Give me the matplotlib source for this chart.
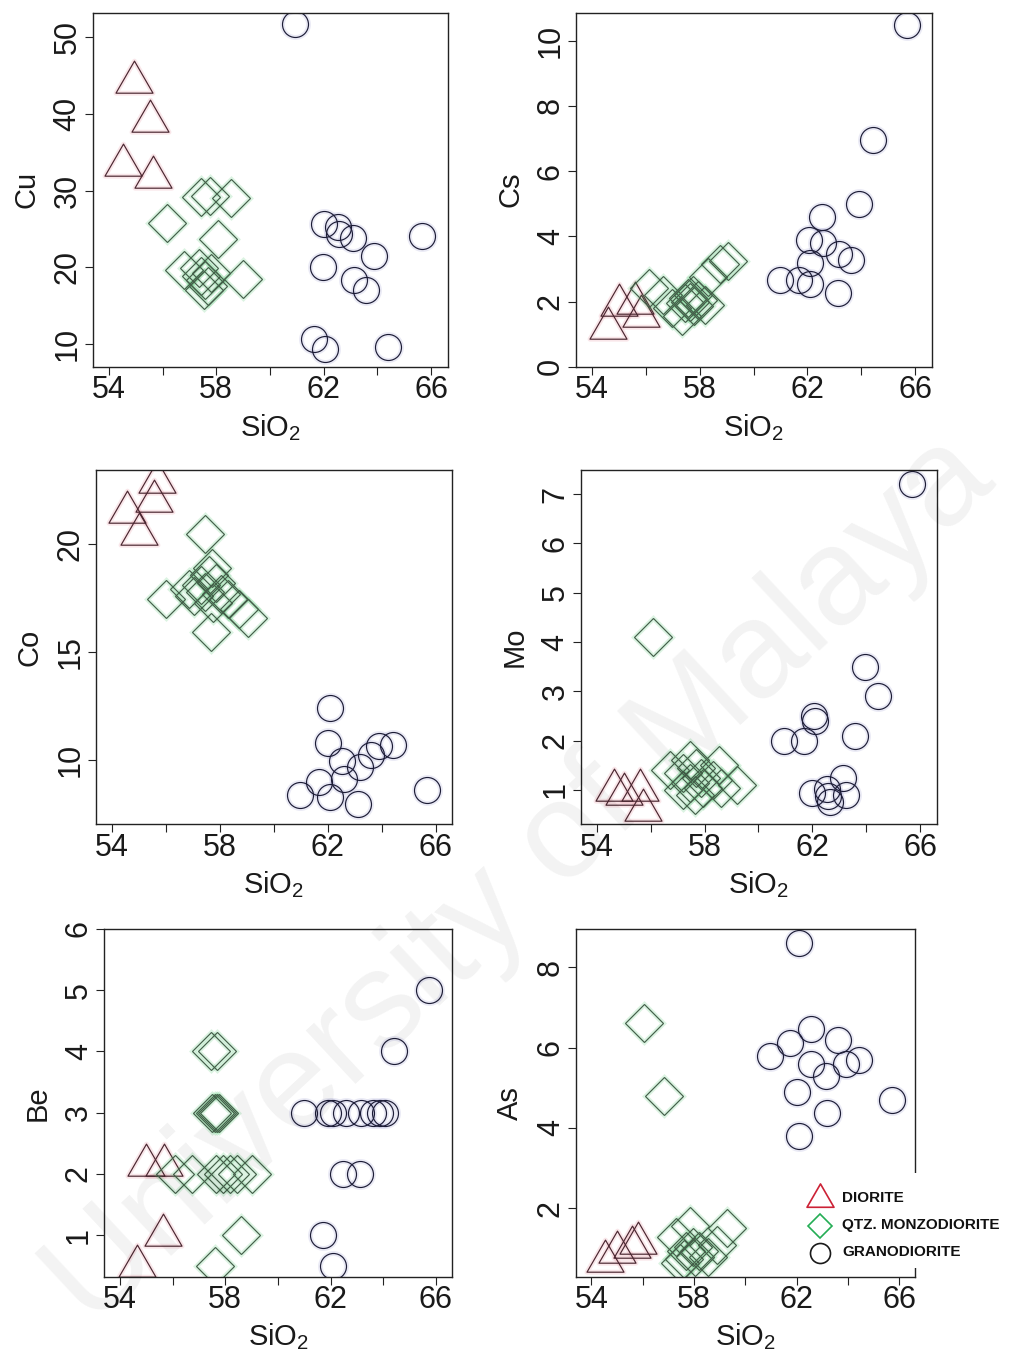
import matplotlib
matplotlib.use('Agg')
import matplotlib.pyplot as plt
from matplotlib.path import Path
from matplotlib.lines import Line2D
from matplotlib.patches import Rectangle

plt.rcParams['font.family'] = ['Liberation Sans', 'DejaVu Sans']
plt.rcParams['mathtext.fontset'] = 'custom'
plt.rcParams['mathtext.rm'] = 'Liberation Sans'
plt.rcParams['mathtext.it'] = 'Liberation Sans:italic'
plt.rcParams['mathtext.bf'] = 'Liberation Sans:bold'

# ---------------- data ----------------
groups = ['DIORITE', 'QTZ. MONZODIORITE', 'GRANODIORITE']
x_ticks = [54, 56, 58, 60, 62, 64, 66]
x_tick_labels = ['54', '', '58', '', '62', '', '66']

# Cu
cu_dio_sio2 = [54.93, 55.55, 54.53, 55.64]
cu_dio = [44.1, 39.1, 33.4, 31.8]
cu_qmd_sio2 = [57.45, 57.75, 58.55, 56.15, 58.08, 56.8, 57.35, 57.45, 57.6, 57.7, 57.8, 57.55, 59.0]
cu_qmd = [29.2, 29.3, 29.0, 25.8, 23.7, 19.7, 19.9, 18.9, 18.3, 17.6, 19.2, 17.1, 18.5]
cu_gd_sio2 = [60.94, 62.02, 62.52, 62.58, 63.08, 65.67, 63.89, 61.99, 63.14, 63.58, 61.65, 62.06, 64.39]
cu_gd = [51.7, 25.7, 25.3, 24.4, 23.8, 24.1, 21.5, 20.0, 18.3, 17.1, 10.7, 9.4, 9.65]

# Cs
cs_dio_sio2 = [54.6, 55.0, 55.6, 55.8]
cs_dio = [1.2, 1.9, 1.95, 1.55]
cs_qmd_sio2 = [56.1, 56.65, 56.95, 57.35, 57.45, 57.55, 57.65, 57.75, 57.8, 57.95, 58.2, 58.3, 58.75, 59.05]
cs_qmd = [2.4, 2.2, 1.8, 1.55, 1.95, 2.1, 2.0, 2.2, 1.85, 2.05, 1.9, 2.75, 3.15, 3.25]
cs_gd_sio2 = [65.71, 64.45, 63.91, 62.55, 62.05, 62.59, 63.17, 63.63, 62.09, 61.0, 61.68, 62.09, 63.13]
cs_gd = [10.48, 6.95, 5.0, 4.59, 3.89, 3.79, 3.47, 3.28, 3.18, 2.67, 2.67, 2.55, 2.26]

# Co
co_dio_sio2 = [55.67, 55.57, 54.56, 54.99]
co_dio = [22.9, 22.0, 21.5, 20.5]
co_qmd_sio2 = [57.47, 56.0, 56.85, 57.05, 57.3, 57.45, 57.6, 57.7, 57.75, 57.85, 58.05, 58.3, 58.7, 59.05, 57.68]
co_qmd = [20.5, 17.45, 17.95, 17.6, 18.1, 17.8, 18.6, 18.9, 17.3, 18.2, 17.7, 17.45, 17.0, 16.6, 15.95]
co_gd_sio2 = [62.07, 62.01, 63.9, 64.43, 63.59, 62.54, 63.2, 62.6, 61.67, 60.97, 62.08, 63.12, 65.7]
co_gd = [12.4, 10.77, 10.66, 10.7, 10.23, 9.95, 9.69, 9.1, 9.0, 8.38, 8.3, 7.96, 8.61]

# Mo
mo_dio_sio2 = [54.62, 54.99, 55.61, 55.73]
mo_dio = [0.99, 0.91, 1.0, 0.59]
mo_qmd_sio2 = [56.1, 56.7, 57.2, 57.2, 57.45, 57.45, 57.65, 57.7, 57.85, 57.95, 58.3, 58.55, 58.6, 59.2]
mo_qmd = [4.1, 1.4, 1.35, 1.0, 1.6, 1.15, 0.9, 1.45, 1.25, 1.05, 1.2, 1.5, 1.05, 1.1]
mo_gd_sio2 = [65.7, 63.95, 64.45, 62.05, 62.1, 60.95, 61.7, 63.6, 63.15, 61.98, 62.54, 62.6, 62.66, 63.25]
mo_gd = [7.2, 3.5, 2.9, 2.5, 2.4, 2.0, 2.0, 2.1, 1.25, 0.93, 1.03, 0.88, 0.75, 0.9]

# Be
be_dio_sio2 = [54.98, 55.68, 55.64, 54.64]
be_dio = [2.15, 2.15, 1.0, 0.5]
be_qmd_sio2 = [57.45, 57.7, 57.5, 57.6, 57.7, 57.75, 56.1, 56.75, 57.65, 57.9, 58.2, 58.45, 59.0, 58.6, 57.6]
be_qmd = [4, 4, 3, 3, 3, 3, 2, 2, 2, 2, 2, 2, 2, 1, 0.5]
be_gd_sio2 = [65.73, 64.4, 60.99, 61.91, 62.1, 62.6, 63.17, 63.61, 63.86, 64.05, 62.48, 63.11, 61.7, 62.1]
be_gd = [5, 4, 3, 3, 3, 3, 3, 3, 3, 3, 2, 2, 1, 0.5]

# As
as_dio_sio2 = [54.55, 55.0, 55.6, 55.8]
as_dio = [0.7, 0.92, 1.05, 1.15]
as_qmd_sio2 = [56.05, 56.85, 57.3, 57.45, 57.6, 57.7, 57.85, 57.95, 58.05, 58.2, 58.55, 58.9, 59.3]
as_qmd = [6.6, 4.8, 1.3, 0.65, 0.75, 0.95, 1.55, 1.05, 0.8, 0.95, 0.8, 1.1, 1.5]
as_gd_sio2 = [62.11, 62.57, 61.73, 63.63, 60.98, 62.57, 64.43, 63.91, 63.13, 62.02, 65.71, 63.19, 62.11]
as_gd = [8.6, 6.46, 6.12, 6.19, 5.78, 5.59, 5.69, 5.59, 5.29, 4.9, 4.7, 4.38, 3.8]

elements = ['Cu', 'Cs', 'Co', 'Mo', 'Be', 'As']
y_ticks = [[10, 20, 30, 40, 50], [0, 2, 4, 6, 8, 10], [10, 15, 20],
           [1, 2, 3, 4, 5, 6, 7], [1, 2, 3, 4, 5, 6], [2, 4, 6, 8]]
y_limits = [(7.04, 53.2), (0.0, 10.86), (7.03, 23.45), (0.31, 7.49), (0.32, 6.0), (0.30, 8.95)]
x_limits = (53.4, 66.62)

panel_data = [
    [(cu_dio_sio2, cu_dio), (cu_qmd_sio2, cu_qmd), (cu_gd_sio2, cu_gd)],
    [(cs_dio_sio2, cs_dio), (cs_qmd_sio2, cs_qmd), (cs_gd_sio2, cs_gd)],
    [(co_dio_sio2, co_dio), (co_qmd_sio2, co_qmd), (co_gd_sio2, co_gd)],
    [(mo_dio_sio2, mo_dio), (mo_qmd_sio2, mo_qmd), (mo_gd_sio2, mo_gd)],
    [(be_dio_sio2, be_dio), (be_qmd_sio2, be_qmd), (be_gd_sio2, be_gd)],
    [(as_dio_sio2, as_dio), (as_qmd_sio2, as_qmd), (as_gd_sio2, as_gd)],
]

# ---------------- layout (pixel boxes: left, top, right, bottom) ----------------
W, H = 1029, 1356
boxes = [(92.7, 12.7, 447.7, 366.7), (576, 12.7, 931.7, 366.7),
         (95.7, 470, 452.3, 824), (580.7, 470, 936.7, 824),
         (104, 929, 452.3, 1276.7), (576, 929, 915, 1276.7)]

fig = plt.figure(figsize=(W / 100, H / 100), dpi=100)

TRI = Path([(0, 1), (-0.866, -0.5), (0.866, -0.5), (0, 1)],
           [Path.MOVETO, Path.LINETO, Path.LINETO, Path.CLOSEPOLY])

styles = [
    dict(marker=TRI, ms=30.8, edge='#4a2630', halo='#e07888'),
    dict(marker='D', ms=19.3, edge='#44604a', halo='#3cc060'),
    dict(marker='o', ms=18.7, edge='#1c1c36', halo='#8c8cc8'),
]
frame_col = '#222222'

for i, (l, t, r, b) in enumerate(boxes):
    wpx, hpx = r - l, b - t
    ax = fig.add_axes([l / W, 1 - b / H, wpx / W, hpx / H])
    for g, (xs, ys) in enumerate(panel_data[i]):
        st = styles[g]
        ax.plot(xs, ys, ls='none', marker=st['marker'], ms=st['ms'], mfc='none',
                mec=st['halo'], mew=3.5, alpha=0.18)
        ax.plot(xs, ys, ls='none', marker=st['marker'], ms=st['ms'], mfc='none',
                mec=st['edge'], mew=0.85, label=groups[g])
    ax.set_xlim(*x_limits)
    ax.set_ylim(*y_limits[i])
    ax.set_xticks(x_ticks)
    ax.set_xticklabels(x_tick_labels)
    ax.set_yticks(y_ticks[i])
    ax.set_yticklabels([str(v) for v in y_ticks[i]])
    ax.tick_params(axis='both', direction='out', length=5.8, width=0.8,
                   color=frame_col, labelcolor='#1a1a1a', labelsize=22)
    ax.tick_params(axis='x', pad=0.5)
    ax.tick_params(axis='y', pad=1.5, labelrotation=90)
    for lbl in ax.get_yticklabels():
        lbl.set_verticalalignment('center')
    for sp in ax.spines.values():
        sp.set_linewidth(1.0)
        sp.set_color(frame_col)
    ax.set_xlabel('SiO$_2$', fontsize=21, color='#1a1a1a')
    ax.xaxis.set_label_coords(0.5, -45 / hpx)
    ax.xaxis.label.set_verticalalignment('top')
    ax.set_ylabel(elements[i], fontsize=21, color='#1a1a1a')
    ax.yaxis.set_label_coords(-66 / wpx, 0.5)
    ax.yaxis.label.set_verticalalignment('center')

# ---------------- legend (white box over the As panel corner) ----------------
fig.add_artist(Rectangle((803 / W, 1 - 1268 / H), (W - 803) / W, 95 / H,
                         transform=fig.transFigure, facecolor='white',
                         edgecolor='none', zorder=5))
leg_styles = [
    dict(marker=TRI, ms=22.4, color='#cc2236'),
    dict(marker='D', ms=12.7, color='#24ad55'),
    dict(marker='o', ms=14.4, color='#1a1a1a'),
]
leg_rows = [1198.5, 1225.5, 1252.5]
for g in range(3):
    yy = 1 - leg_rows[g] / H
    fig.add_artist(Line2D([820 / W], [yy], transform=fig.transFigure, ls='none',
                          marker=leg_styles[g]['marker'], ms=leg_styles[g]['ms'],
                          mfc='none', mec=leg_styles[g]['color'], mew=1.2, zorder=6))
    fig.text(842 / W, yy, groups[g], fontsize=11, fontweight='bold', color='#111111',
             ha='left', va='center', zorder=6)

# ---------------- watermark (kept fully inside the figure) ----------------
fig.text(92 / W, 1 - 1330 / H, 'University of Malaya', fontsize=99, rotation=43,
         rotation_mode='anchor', ha='left', va='baseline', color='black',
         alpha=0.05, zorder=10)

fig.savefig('out.png', dpi=100)
